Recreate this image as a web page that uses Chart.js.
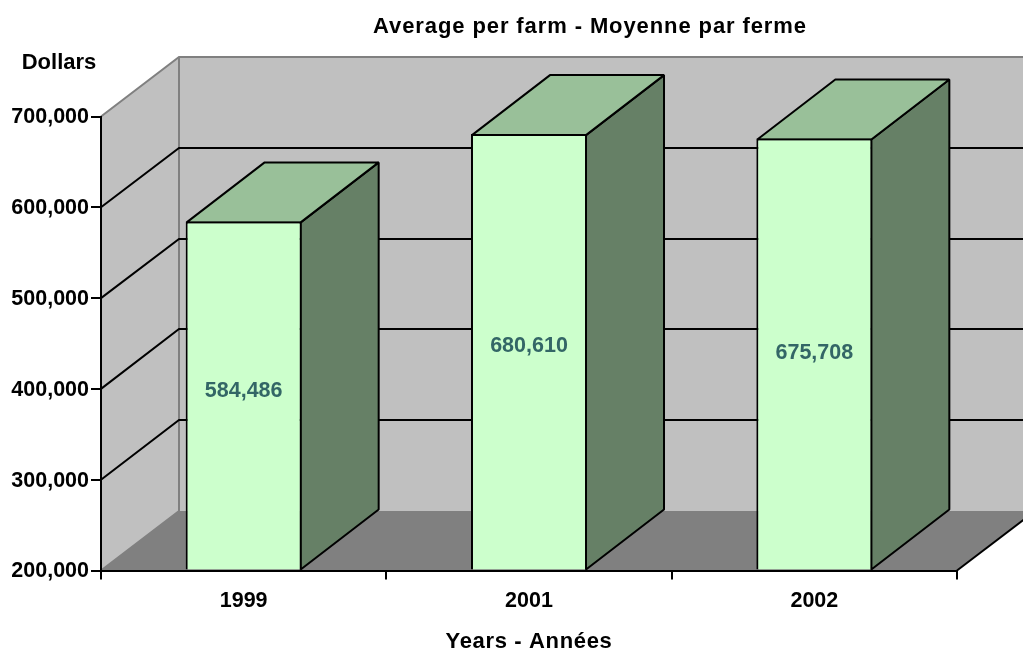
<!DOCTYPE html>
<html>
<head>
<meta charset="utf-8">
<style>html,body{margin:0;padding:0;background:#fff}canvas{display:block}</style>
<script src="https://cdn.jsdelivr.net/npm/chart.js@4"></script>
</head>
<body>
<canvas id="c" width="1023" height="652"></canvas>
<script>
const categories = ["1999", "2001", "2002"];
const values = [584486, 680610, 675708];
const yMin = 200000, yMax = 700000, yStep = 100000;
const chartTitle = "Average per farm - Moyenne par ferme";
const yUnit = "Dollars";
const xTitle = "Years - Années";

const FONT = '"Liberation Sans", Arial, sans-serif';
const DX = 78, DY = -60, WDY = -59.5;
const LABEL_SHIFT = [-4, -6, -1];
const C = {wall:"#c0c0c0", edge:"#808080", floor:"#808080", front:"#ccffcc", top:"#99c099", side:"#668066", label:"#336666"};

function poly(ctx, pts, fill, stroke, lw){
  ctx.beginPath();
  pts.forEach((p,i)=> i ? ctx.lineTo(p[0],p[1]) : ctx.moveTo(p[0],p[1]));
  ctx.closePath();
  if(fill){ctx.fillStyle=fill;ctx.fill();}
  if(stroke){ctx.strokeStyle=stroke;ctx.lineWidth=lw||2;ctx.lineJoin="bevel";ctx.stroke();}
}
function line(ctx, pts, color, lw){
  ctx.beginPath();
  pts.forEach((p,i)=> i ? ctx.lineTo(p[0],p[1]) : ctx.moveTo(p[0],p[1]));
  ctx.strokeStyle=color;ctx.lineWidth=lw||2;ctx.stroke();
}
const walls = {
  id:"walls",
  beforeDraw(chart){
    const {ctx, chartArea:a, scales:{y}} = chart;
    const L=a.left,R=a.right,T=a.top,B=a.bottom;
    ctx.save();
    ctx.fillStyle="#fff";ctx.fillRect(0,0,chart.width,chart.height);
    poly(ctx,[[L+DX,T+WDY],[R+DX,T+WDY],[R+DX,B+WDY],[L+DX,B+WDY]],C.wall);
    poly(ctx,[[L,T],[L+DX,T+WDY],[L+DX,B+WDY],[L,B]],C.wall);
    poly(ctx,[[L,B],[L+DX,B+WDY],[R+DX,B+WDY],[R,B]],C.floor);
    line(ctx,[[L,T],[L+DX,Math.round(T+WDY)],[R+DX,Math.round(T+WDY)]],C.edge);
    line(ctx,[[L+DX,T+WDY],[L+DX,B+WDY],[L,B]],C.edge);
    line(ctx,[[R,B],[R+DX,B+WDY]],"#000");
    for(let v=yMin+yStep;v<yMax;v+=yStep){
      const p=y.getPixelForValue(v), q=Math.round(p+WDY);
      line(ctx,[[L,p],[L+DX,q],[R+DX,q]],"#000");
    }
    ctx.restore();
  },
  beforeDatasetsDraw(chart){
    const {ctx} = chart;
    const base = chart.getDatasetMeta(0).data;
    ctx.save();
    base.forEach(b=>{
      const hw=b.width/2-1, l=b.x-hw, r=b.x+hw, t=b.y+1, bt=b.base;
      poly(ctx,[[r,t],[r+DX,t+DY],[r+DX,bt+DY],[r,bt]],C.side,"#000");
      poly(ctx,[[l,t],[l+DX,t+DY],[r+DX,t+DY],[r,t]],C.top,"#000");
    });
    ctx.restore();
  },
  afterDatasetsDraw(chart){
    const {ctx} = chart;
    ctx.save();
    ctx.font='bold 21.5px '+FONT;
    ctx.textAlign="center";ctx.textBaseline="middle";ctx.fillStyle=C.label;
    chart.getDatasetMeta(0).data.forEach((b,i)=>{
      ctx.fillText(values[i].toLocaleString("en-US"),b.x,(b.y+b.base)/2+LABEL_SHIFT[i]);
    });
    ctx.restore();
  },
  afterDraw(chart){
    const {ctx} = chart;
    ctx.save();
    ctx.fillStyle="#000";ctx.font='bold 22px '+FONT;ctx.textBaseline="middle";ctx.textAlign="center";
    ctx.fillText(yUnit,59,63);
    if("letterSpacing" in ctx) ctx.letterSpacing="0.9px";
    ctx.fillText(chartTitle,590,27);
    if("letterSpacing" in ctx) ctx.letterSpacing="0.65px";
    ctx.fillText(xTitle,529,642);
    ctx.restore();
  }
};

new Chart(document.getElementById("c"),{
  type:"bar",
  data:{labels:categories,datasets:[{data:values,base:yMin,backgroundColor:C.front,borderColor:"#000",borderWidth:2,barPercentage:0.4066,categoryPercentage:1}]},
  plugins:[walls],
  options:{
    responsive:false,animation:false,
    layout:{padding:{top:116.5,right:66,left:0,bottom:0}},
    plugins:{legend:{display:false},title:{display:false},tooltip:{enabled:false}},
    scales:{
      x:{
        grid:{offset:true,drawOnChartArea:false,drawTicks:true,tickLength:9,color:"#000",tickColor:"#000",lineWidth:2},
        border:{color:"#000",width:2},
        ticks:{color:"#000",font:{family:FONT,size:21.5,weight:"bold"},padding:9,maxRotation:0},
        afterFit(s){s.height=81.5;}
      },
      y:{
        min:yMin,max:yMax,
        grid:{drawOnChartArea:false,tickLength:10,color:"#000",tickColor:"#000",lineWidth:2},
        border:{color:"#000",width:2},
        ticks:{stepSize:yStep,color:"#000",font:{family:FONT,size:21.5,weight:"bold"},padding:2,labelOffset:1,callback:v=>v.toLocaleString("en-US")},
        afterFit(s){s.width=101;}
      }
    }
  }
});
</script>
</body>
</html>
